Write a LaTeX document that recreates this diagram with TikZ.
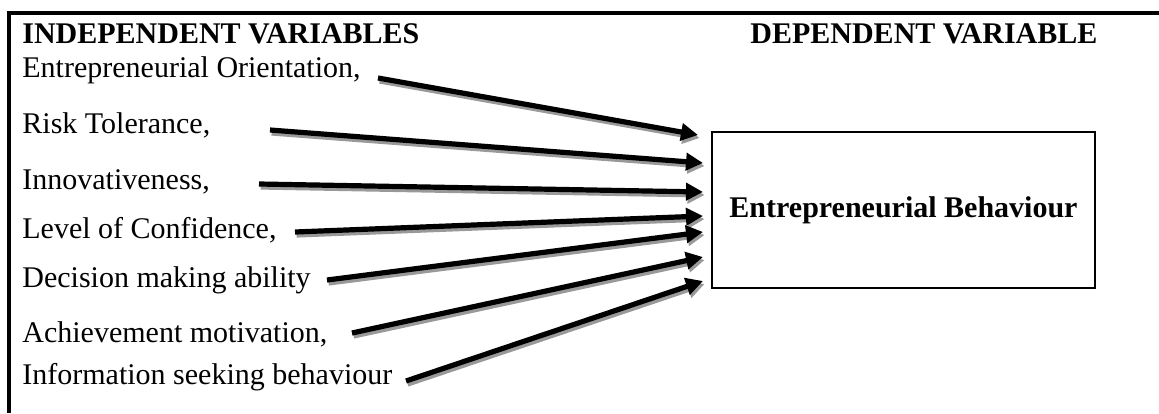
\documentclass[tikz,border=0pt]{standalone}
\usepackage{fontspec}
\setmainfont{Liberation Serif}
\usetikzlibrary{arrows.meta}
\begin{document}
\begin{tikzpicture}[x=0.5pt,y=-0.5pt,
  lbl/.style={anchor=base west,inner sep=0pt,font=\fontsize{15pt}{18pt}\selectfont},
  hdr/.style={anchor=base west,inner sep=0pt,font=\fontsize{15pt}{18pt}\selectfont\bfseries},
  shadowarrow/.style={line width=2.6pt,draw=black!40,-{Triangle[length=8.5pt,width=8.5pt]},transform canvas={xshift=0.8pt,yshift=-1.5pt}},
  mainarrow/.style={line width=2.6pt,draw=black,-{Triangle[length=8.5pt,width=8.5pt]}},
  frame/.style={line width=1.8pt},
  dvbox/.style={draw,line width=0.8pt,minimum width=191.5pt,minimum height=78pt,inner sep=0pt,font=\fontsize{15pt}{18pt}\selectfont\bfseries}]
\useasboundingbox (0,0) rectangle (1159,413);
\fill[white] (0,0) rectangle (1159,413);
% frame (top and left)
\draw[frame] (9,413) -- (9,13) -- (1159,13);
% headers
\node[hdr] (hi) at (22,43) {INDEPENDENT VARIABLES};
\node[hdr] (hd) at (750,43) {DEPENDENT VARIABLE};
% independent variables
\node[lbl] (t1) at (22,77) {Entrepreneurial Orientation,};
\node[lbl] (t2) at (22,133) {Risk Tolerance,};
\node[lbl] (t3) at (22,189) {Innovativeness,};
\node[lbl] (t4) at (22,238) {Level of Confidence,};
\node[lbl] (t5) at (22,287) {Decision making ability};
\node[lbl] (t6) at (22,342) {Achievement motivation,};
\node[lbl] (t7) at (22,384) {Information seeking behaviour};
% dependent variable box
\node[dvbox] (eb) at (903.5,210) {Entrepreneurial Behaviour};
% arrow ends
\coordinate (s1) at (378,78);  \coordinate (e1) at (698,135);
\coordinate (s2) at (270,130); \coordinate (e2) at (703,163);
\coordinate (s3) at (259,184); \coordinate (e3) at (703,192);
\coordinate (s4) at (295,232); \coordinate (e4) at (703,216);
\coordinate (s5) at (327,280); \coordinate (e5) at (703,232);
\coordinate (s6) at (352,333); \coordinate (e6) at (703,257);
\coordinate (s7) at (406,381); \coordinate (e7) at (703,281);
\foreach \i in {1,...,7}{
  \draw[shadowarrow] (s\i) -- (e\i);
}
\foreach \i in {1,...,7}{
  \draw[mainarrow] (s\i) -- (e\i);
}
\end{tikzpicture}
\end{document}
